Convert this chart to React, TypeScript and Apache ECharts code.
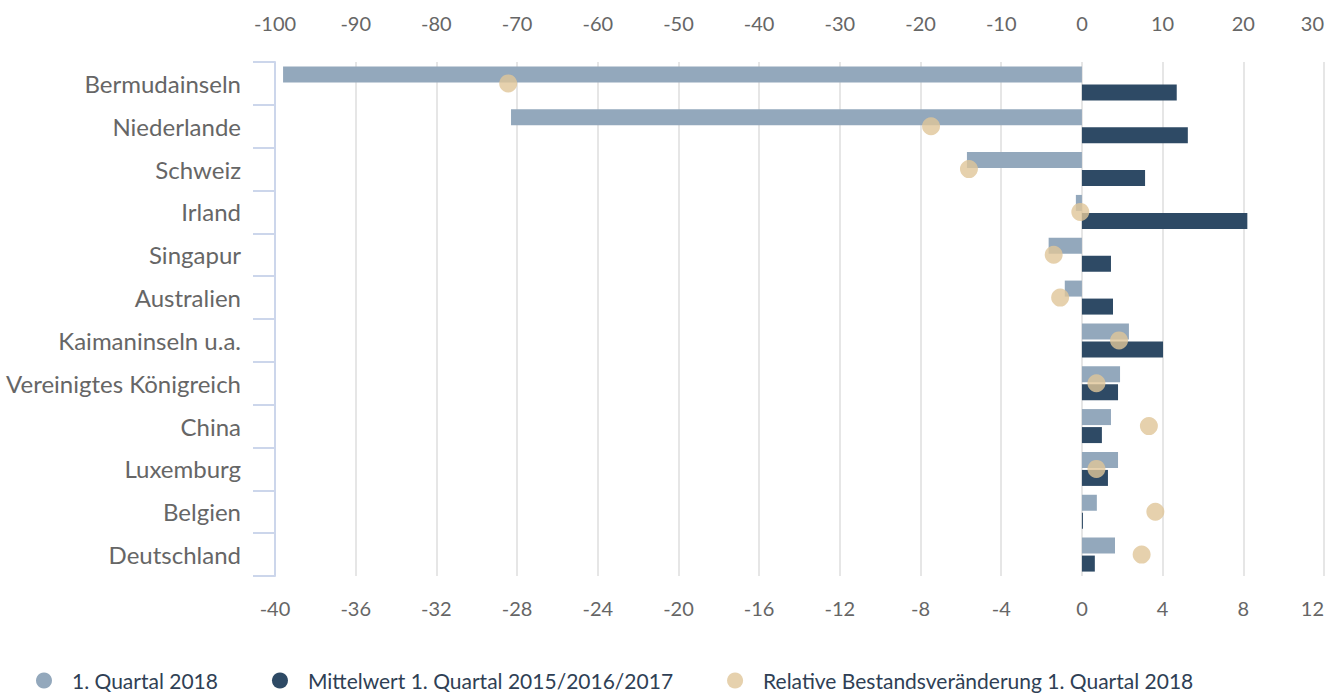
import React, { useEffect, useRef } from "react";
import * as echarts from "echarts";

const categories = [
  "Bermudainseln",
  "Niederlande",
  "Schweiz",
  "Irland",
  "Singapur",
  "Australien",
  "Kaimaninseln u.a.",
  "Vereinigtes Königreich",
  "China",
  "Luxemburg",
  "Belgien",
  "Deutschland",
];

const quartal2018 = [-39.6, -28.3, -5.7, -0.3, -1.65, -0.85, 2.33, 1.89, 1.44, 1.79, 0.74, 1.64];
const mittelwert = [4.7, 5.25, 3.13, 8.2, 1.44, 1.54, 4.02, 1.79, 0.99, 1.29, 0.05, 0.64];
const relativ = [-71.1, -18.7, -14.0, -0.2, -3.5, -2.7, 4.6, 1.8, 8.3, 1.8, 9.1, 7.4];

const seriesNames = [
  "1. Quartal 2018",
  "Mittelwert 1. Quartal 2015/2016/2017",
  "Relative Bestandsveränderung 1. Quartal 2018",
];

const FONT = "Lato, 'Source Sans Pro', sans-serif";

export default function App() {
  const ref = useRef<HTMLDivElement>(null);
  useEffect(() => {
    document.body.style.margin = "0";
    if (!ref.current) return;
    const chart = echarts.init(ref.current, null, { renderer: "svg" });
    chart.setOption({
      animation: false,
      textStyle: { fontFamily: FONT },
      grid: { left: 275, right: 12, top: 62, bottom: 120, containLabel: false },
      legend: {
        left: 31,
        bottom: 0,
        icon: "circle",
        itemWidth: 16,
        itemHeight: 16,
        itemGap: 54,
        textStyle: { fontFamily: FONT, fontSize: 21, color: "#2f3f55", padding: [0, 0, 0, 15] },
        data: seriesNames,
      },
      xAxis: [
        {
          type: "value",
          position: "bottom",
          min: -40,
          max: 12,
          interval: 4,
          axisLine: { show: false },
          axisTick: { show: false },
          splitLine: { show: true, lineStyle: { color: "#e6e6e6", width: 2 } },
          axisLabel: { fontFamily: FONT, fontSize: 20, color: "#666666", margin: 22, alignMaxLabel: "right" },
        },
        {
          type: "value",
          position: "top",
          min: -100,
          max: 30,
          interval: 10,
          axisLine: { show: false },
          axisTick: { show: false },
          splitLine: { show: false },
          axisLabel: { fontFamily: FONT, fontSize: 20, color: "#666666", margin: 29, alignMaxLabel: "right" },
        },
      ],
      yAxis: {
        type: "category",
        data: categories,
        inverse: true,
        axisLine: { show: true, onZero: false, lineStyle: { color: "#ccd6eb", width: 2 } },
        axisTick: { show: true, length: 22, lineStyle: { color: "#ccd6eb", width: 2 } },
        axisLabel: { fontFamily: FONT, fontSize: 24, color: "#666666", margin: 34 },
        splitLine: { show: false },
      },
      series: [
        {
          name: seriesNames[0],
          type: "bar",
          xAxisIndex: 0,
          data: quartal2018,
          barWidth: 16,
          barGap: "12.5%",
          itemStyle: { color: "#93a8bc" },
        },
        {
          name: seriesNames[1],
          type: "bar",
          xAxisIndex: 0,
          data: mittelwert,
          barWidth: 16,
          barGap: "12.5%",
          itemStyle: { color: "#2e4a65" },
        },
        {
          name: seriesNames[2],
          type: "scatter",
          xAxisIndex: 1,
          data: relativ.map((v, i) => [v, categories[i]]),
          symbolSize: 18,
          z: 5,
          itemStyle: { color: "#e0c598" },
        },
      ],
    });
    return () => chart.dispose();
  }, []);
  return <div ref={ref} style={{ width: 1336, height: 696 }} />;
}
